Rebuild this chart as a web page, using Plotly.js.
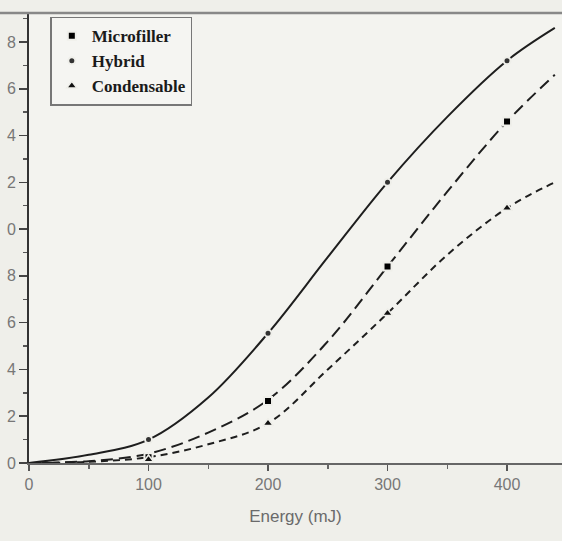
<!DOCTYPE html>
<html><head><meta charset="utf-8">
<script src="https://cdn.plot.ly/plotly-3.0.1.min.js"></script>
<style>html,body{margin:0;padding:0;background:#eeeee9;}</style>
</head><body>
<div id="chart" style="width:562px;height:541px;"></div>
<script>
// Measured points (markers)
const energyPts = [100, 200, 300, 400];
const microfillerPts = [0.25, 2.65, 8.4, 14.6];
const hybridPts = [1.0, 5.55, 12.0, 17.2];
const condensablePts = [0.15, 1.7, 6.4, 10.9];

// Fitted curves
const energyCurve = [0, 50, 100, 150, 200, 250, 300, 350, 400, 440];
const microfillerCurve = [0, 0.08, 0.4, 1.3, 2.7, 5.2, 8.4, 11.6, 14.6, 16.6];
const hybridCurve = [0, 0.35, 1.0, 2.8, 5.55, 8.8, 12.0, 14.8, 17.2, 18.6];
const condensableCurve = [0, 0.05, 0.25, 0.8, 1.7, 4.0, 6.4, 8.9, 10.9, 12.0];

const yTickVals = [0, 2, 4, 6, 8, 10, 12, 14, 16, 18];
const yTickText = ["0", "2", "4", "6", "8", "0", "2", "4", "6", "8"];
const xTickVals = [0, 100, 200, 300, 400];
const xTickText = ["0", "100", "200", "300", "400"];

const names = ["Microfiller", "Hybrid", "Condensable"];
const ink = "#1e1e1e";
const bg = "#efefea";

const traces = [
  {x: energyCurve, y: microfillerCurve, mode: "lines", line: {color: ink, width: 2, dash: "12px,6px", shape: "spline"}, showlegend: false, hoverinfo: "skip"},
  {x: energyCurve, y: hybridCurve, mode: "lines", line: {color: ink, width: 2, shape: "spline"}, showlegend: false, hoverinfo: "skip"},
  {x: energyCurve, y: condensableCurve, mode: "lines", line: {color: ink, width: 2, dash: "7px,5px", shape: "spline"}, showlegend: false, hoverinfo: "skip"},
  {x: energyPts, y: microfillerPts, mode: "markers", name: names[0], marker: {symbol: "square", size: 8, color: "#000", line: {color: bg, width: 2}}},
  {x: energyPts, y: hybridPts, mode: "markers", name: names[1], marker: {symbol: "circle", size: 7, color: "#333", line: {color: bg, width: 2}}},
  {x: energyPts, y: condensablePts, mode: "markers", name: names[2], marker: {symbol: "triangle-up", size: 9, color: "#111", line: {color: bg, width: 1.5}}}
];

const layout = {
  width: 562, height: 541,
  margin: {l: 29, r: 0, t: 13, b: 78},
  paper_bgcolor: bg, plot_bgcolor: "#f3f3ef",
  font: {family: "Liberation Sans, Arial, sans-serif", color: "#666", size: 12},
  xaxis: {
    range: [0, 446], tickvals: xTickVals, ticktext: xTickText,
    ticks: "outside", ticklen: 6, tickcolor: "#555", tickwidth: 1.5,
    minor: {dtick: 50, ticks: "outside", ticklen: 4, tickcolor: "#666"},
    showgrid: false, zeroline: false,
    showline: true, linecolor: "#666", linewidth: 2,
    tickfont: {size: 16, color: "#777"},
    title: {text: "Energy (mJ)", font: {size: 17, color: "#6a6a6a"}, standoff: 18}
  },
  yaxis: {
    range: [0, 19.24], tickvals: yTickVals, ticktext: yTickText,
    ticks: "outside", ticklen: 8, tickcolor: "#444", tickwidth: 1.5,
    ticklabelstandoff: 0,
    minor: {dtick: 1, ticks: "outside", ticklen: 4, tickcolor: "#555"},
    showgrid: false, zeroline: false,
    showline: true, linecolor: "#333", linewidth: 2,
    tickfont: {size: 16, color: "#777"}
  },
  legend: {
    x: 0.04, y: 0.992, xanchor: "left", yanchor: "top",
    bgcolor: "#f5f5f2", bordercolor: "#777", borderwidth: 1.5,
    font: {family: "Liberation Serif, Times New Roman, serif", size: 17, color: "#1a1a1a", weight: "bold"},
    itemwidth: 30, tracegroupgap: 0
  },
  shapes: [
    {type: "line", xref: "paper", yref: "paper", x0: -0.06, x1: 1, y0: 1, y1: 1, line: {color: "#888", width: 2.5}}
  ]
};

Plotly.newPlot("chart", traces, layout, {displayModeBar: false, staticPlot: true});
</script>
</body></html>
